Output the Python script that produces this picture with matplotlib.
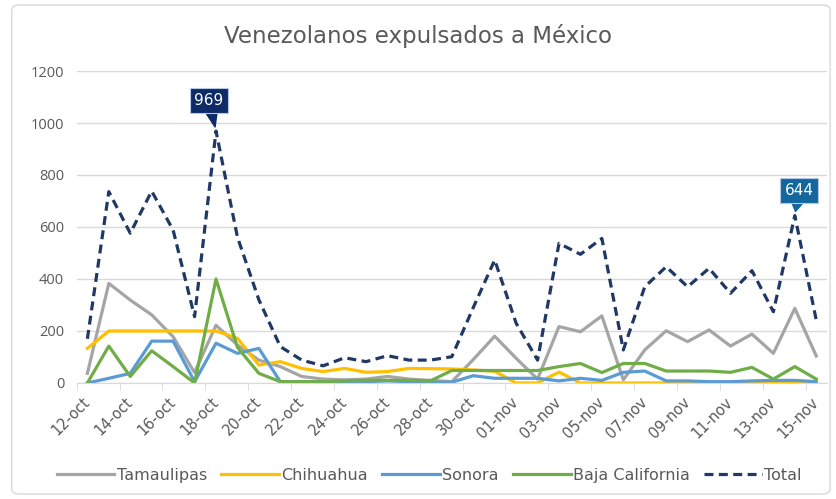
import numpy as np
import matplotlib.pyplot as plt
from matplotlib.patches import FancyBboxPatch

# Datos
fechas = ['12-oct', '13-oct', '14-oct', '15-oct', '16-oct', '17-oct', '18-oct', '19-oct', '20-oct',
          '21-oct', '22-oct', '23-oct', '24-oct', '25-oct', '26-oct', '27-oct', '28-oct', '29-oct',
          '30-oct', '31-oct', '01-nov', '02-nov', '03-nov', '04-nov', '05-nov', '06-nov', '07-nov',
          '08-nov', '09-nov', '10-nov', '11-nov', '12-nov', '13-nov', '14-nov', '15-nov']

tamaulipas = [37, 383, 319, 262, 178, 40, 222, 146, 88, 63, 25, 15, 12, 15, 25, 15, 10, 5,
              90, 180, 95, 15, 217, 197, 258, 12, 127, 201, 159, 204, 142, 188, 114, 287, 104]
chihuahua = [133, 200, 200, 200, 200, 200, 200, 172, 69, 82, 56, 44, 56, 41, 44, 56, 55, 54,
             50, 45, 0, 0, 42, 0, 0, 0, 0, 0, 0, 0, 0, 0, 0, 0, 0]
sonora = [0, 18, 37, 161, 161, 5, 153, 114, 133, 5, 3, 3, 5, 5, 8, 5, 3, 3,
          28, 18, 18, 18, 8, 18, 10, 41, 46, 8, 8, 5, 5, 8, 10, 10, 5]
baja_california = [0, 142, 25, 124, 63, 0, 400, 137, 37, 5, 5, 5, 8, 10, 10, 10, 8, 48,
                   48, 48, 48, 48, 63, 75, 40, 75, 75, 46, 46, 46, 41, 60, 15, 63, 15]
total = [170, 736, 576, 738, 588, 255, 969, 561, 320, 140, 88, 66, 97, 82, 105, 88, 88, 101,
         290, 473, 230, 88, 537, 495, 556, 127, 370, 447, 370, 441, 345, 432, 274, 644, 242]

plt.rcParams['font.family'] = ['DejaVu Sans']
gris_txt = '#595959'

fig = plt.figure(figsize=(8.36, 4.99), dpi=100)
ax = fig.add_axes([0.0917, 0.2325, 0.8975, 0.6252])

x = np.arange(len(fechas))
ax.plot(x, tamaulipas, color='#a5a5a5', lw=2.3, label='Tamaulipas')
ax.plot(x, chihuahua, color='#ffc000', lw=2.3, label='Chihuahua')
ax.plot(x, sonora, color='#5b9bd5', lw=2.3, label='Sonora')
ax.plot(x, baja_california, color='#70ad47', lw=2.3, label='Baja California')
ax.plot(x, total, color='#203864', lw=2.3, dashes=(2.8, 1.7), label='Total')

ax.set_xlim(-0.5, len(fechas) - 0.5)
ax.set_ylim(0, 1200)
ax.set_yticks(range(0, 1201, 200))
ax.grid(axis='y', color='#d9d9d9', lw=1)
ax.set_axisbelow(True)
for s in ['top', 'right', 'left']:
    ax.spines[s].set_visible(False)
ax.spines['bottom'].set_color('#d9d9d9')
ax.tick_params(axis='y', length=0, pad=9, labelcolor=gris_txt)
for t in ax.get_yticklabels():
    t.set_fontfamily('Open Sans')
    t.set_fontsize(10.5)

ax.set_xticks(x[::2])
ax.set_xticklabels(fechas[::2], rotation=45, ha='right', va='center',
                   rotation_mode='anchor', fontsize=10.5, color=gris_txt)
ax.tick_params(axis='x', which='major', length=0, pad=12)
ax.set_xticks(np.arange(-0.5, len(fechas), 2), minor=True)
ax.tick_params(axis='x', which='minor', length=5, color='#d9d9d9')

# Etiquetas de datos
def etiqueta(i, color, dx, dy):
    ax.annotate(str(total[i]), xy=(i, total[i]), xytext=(dx, dy), textcoords='offset points',
                ha='center', va='center', color='white', fontsize=11,
                bbox=dict(boxstyle='square,pad=0.3', fc=color, ec='#b4c7e7', lw=0.8),
                arrowprops=dict(arrowstyle='wedge,tail_width=0.7', fc=color, ec=color,
                                shrinkA=0, shrinkB=3))

etiqueta(6, '#0d2b66', -5, 22)
etiqueta(33, '#13679c', 3, 18)

fig.text(0.5, 0.928, 'Venezolanos expulsados a México', ha='center', va='center',
         fontsize=16.5, color=gris_txt)

ax.legend(loc='center', bbox_to_anchor=(0.47, -0.295), ncol=5, frameon=False,
          handlelength=3.6, handletextpad=0.15, columnspacing=0.9,
          prop={'size': 11.5}, labelcolor=gris_txt)

fig.patches.append(FancyBboxPatch((0.014, 0.01), 0.979, 0.98, boxstyle='round,pad=0,rounding_size=0.01',
                                  transform=fig.transFigure, fc='none', ec='#d9d9d9', lw=1))

fig.savefig('out.png', dpi=100)
